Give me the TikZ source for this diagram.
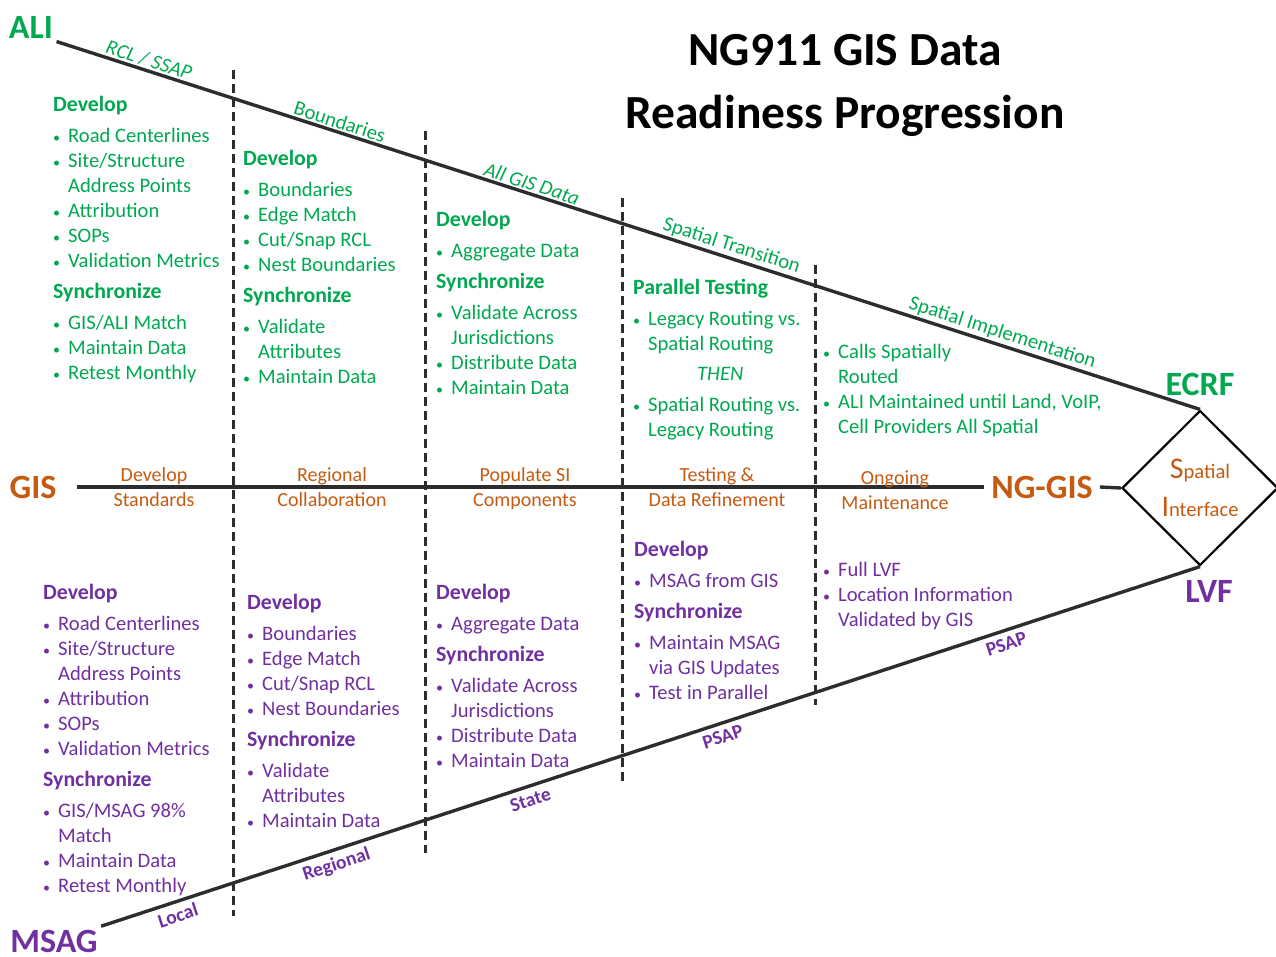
\documentclass[tikz,border=0pt]{standalone}
\usepackage{fontspec}
\setmainfont{Carlito}
\usetikzlibrary{shapes.geometric}
\usetikzlibrary{positioning}

\definecolor{aligreen}{RGB}{0,168,80}
\definecolor{gisbrown}{RGB}{197,90,17}
\definecolor{msagpurple}{RGB}{112,48,160}
\definecolor{linegray}{RGB}{45,45,45}

\newcommand{\hd}[1]{{\bfseries\fontsize{21.8}{25}\selectfont #1}}
\newcommand{\bitem}[1]{\makebox[15pt][l]{\fontsize{14}{14}\selectfont\textbullet}#1}
\newcommand{\bcont}[1]{\hspace*{15pt}#1}

\tikzset{
  every node/.style={font=\fontsize{20.6}{25}\selectfont},
  alilist/.style={text=aligreen, align=left, anchor=north west, inner sep=0pt},
  msaglist/.style={text=msagpurple, align=left, anchor=north west, inner sep=0pt},
  stage/.style={text=gisbrown, align=center, inner sep=0pt, font=\fontsize{20}{25}\selectfont},
  bigname/.style={font=\fontsize{34}{34}\selectfont\bfseries},
  alilabel/.style={sloped, above, inner sep=1.5pt, text=aligreen},
  msaglabel/.style={sloped, below, inner sep=5pt, text=msagpurple, font=\fontsize{19.5}{19.5}\selectfont\bfseries},
  mainline/.style={linegray, line width=3.4pt},
  divider/.style={linegray, line width=3pt, dash pattern=on 9pt off 5pt},
}

\begin{document}
\begin{tikzpicture}[x=1pt, y=-1pt]
\useasboundingbox (0,0) rectangle (1276,957);

\node[font=\fontsize{47.5}{63}\selectfont\bfseries, align=center] (title) at (845,85) {NG911 GIS Data\\Readiness Progression};

% the three data sets and where they end up
\node[bigname, text=aligreen] (ali) at (31,27) {ALI};
\node[bigname, text=gisbrown, inner xsep=20pt] (gis) at (33,487) {GIS};
\node[bigname, text=msagpurple] (msag) at (54,941) {MSAG};
\node[bigname, text=gisbrown, inner sep=7pt] (nggis) at (1042,487) {NG-GIS};
\node[draw, diamond, line width=2.2pt, minimum width=156pt, minimum height=155pt, inner sep=0pt, align=center, text=gisbrown] (si) at (1200,488)
  {{\fontsize{30}{30}\selectfont S}patial\\[13pt]{\fontsize{30}{30}\selectfont I}nterface};
\node[bigname, text=aligreen, above=10pt of si.north] (ecrf) {ECRF};
\node[bigname, text=msagpurple, below=10pt of si.south, xshift=9pt] (lvf) {LVF};

\draw[mainline] (ali.south east) --
  node[alilabel, pos=0.078] {\textit{RCL / SSAP}}
  node[alilabel, pos=0.245] {Boundaries}
  node[alilabel, pos=0.413] {\textit{All GIS Data}}
  node[alilabel, pos=0.587] {Spatial Transition}
  node[alilabel, pos=0.824] {Spatial Implementation}
  (si.north);
\draw[mainline] (gis.east) -- (nggis.west);
\draw[mainline] (nggis.east) -- (si.west);
\draw[mainline] (msag.north east) --
  node[msaglabel, pos=0.066] {Local}
  node[msaglabel, pos=0.21] {Regional}
  node[msaglabel, pos=0.387] {State}
  node[msaglabel, pos=0.562] {PSAP}
  node[msaglabel, pos=0.82] {PSAP}
  (si.south);

% phase dividers
\draw[divider] (233,70) -- (233,916);
\draw[divider] (425,131) -- (425,853);
\draw[divider] (622,198) -- (622,783);
\draw[divider] (815,265) -- (815,705);

% GIS stages
\node[stage] (stage1) at (154,487) {Develop\\Standards};
\node[stage] (stage2) at (332,487) {Regional\\Collaboration};
\node[stage] (stage3) at (525,489) {Populate SI\\Components};
\node[stage] (stage4) at (717,487) {Testing \&\\Data Refinement};
\node[stage] (stage5) at (895,490) {Ongoing\\Maintenance};

% ALI side
\node[alilist] (ali1) at (53,96) {\hd{Develop}\\[6pt]
  \bitem{Road Centerlines}\\
  \bitem{Site/Structure}\\
  \bcont{Address Points}\\
  \bitem{Attribution}\\
  \bitem{SOPs}\\
  \bitem{Validation Metrics}\\[6pt]
  \hd{Synchronize}\\[6pt]
  \bitem{GIS/ALI Match}\\
  \bitem{Maintain Data}\\
  \bitem{Retest Monthly}};
\node[alilist] (ali2) at (243,150) {\hd{Develop}\\[6pt]
  \bitem{Boundaries}\\
  \bitem{Edge Match}\\
  \bitem{Cut/Snap RCL}\\
  \bitem{Nest Boundaries}\\[6pt]
  \hd{Synchronize}\\[6pt]
  \bitem{Validate}\\
  \bcont{Attributes}\\
  \bitem{Maintain Data}};
\node[alilist] (ali3) at (436,211) {\hd{Develop}\\[6pt]
  \bitem{Aggregate Data}\\[6pt]
  \hd{Synchronize}\\[6pt]
  \bitem{Validate Across}\\
  \bcont{Jurisdictions}\\
  \bitem{Distribute Data}\\
  \bitem{Maintain Data}};
\node[alilist] (ali4) at (633,279) {\hd{Parallel Testing}\\[6pt]
  \bitem{Legacy Routing vs.}\\
  \bcont{Spatial Routing}\\[5pt]
  \hspace*{64pt}\textit{THEN}\\[6pt]
  \bitem{Spatial Routing vs.}\\
  \bcont{Legacy Routing}};
\node[alilist] (ali5) at (823,344) {\bitem{Calls Spatially}\\
  \bcont{Routed}\\
  \bitem{ALI Maintained until Land, VoIP,}\\
  \bcont{Cell Providers All Spatial}};

% MSAG side
\node[msaglist] (msag1) at (43,584) {\hd{Develop}\\[6pt]
  \bitem{Road Centerlines}\\
  \bitem{Site/Structure}\\
  \bcont{Address Points}\\
  \bitem{Attribution}\\
  \bitem{SOPs}\\
  \bitem{Validation Metrics}\\[6pt]
  \hd{Synchronize}\\[6pt]
  \bitem{GIS/MSAG 98\%}\\
  \bcont{Match}\\
  \bitem{Maintain Data}\\
  \bitem{Retest Monthly}};
\node[msaglist] (msag2) at (247,594) {\hd{Develop}\\[6pt]
  \bitem{Boundaries}\\
  \bitem{Edge Match}\\
  \bitem{Cut/Snap RCL}\\
  \bitem{Nest Boundaries}\\[6pt]
  \hd{Synchronize}\\[6pt]
  \bitem{Validate}\\
  \bcont{Attributes}\\
  \bitem{Maintain Data}};
\node[msaglist] (msag3) at (436,584) {\hd{Develop}\\[6pt]
  \bitem{Aggregate Data}\\[6pt]
  \hd{Synchronize}\\[6pt]
  \bitem{Validate Across}\\
  \bcont{Jurisdictions}\\
  \bitem{Distribute Data}\\
  \bitem{Maintain Data}};
\node[msaglist] (msag4) at (634,541) {\hd{Develop}\\[6pt]
  \bitem{MSAG from GIS}\\[6pt]
  \hd{Synchronize}\\[6pt]
  \bitem{Maintain MSAG}\\
  \bcont{via GIS Updates}\\
  \bitem{Test in Parallel}};
\node[msaglist] (msag5) at (823,562) {\bitem{Full LVF}\\
  \bitem{Location Information}\\
  \bcont{Validated by GIS}};
\end{tikzpicture}
\end{document}
